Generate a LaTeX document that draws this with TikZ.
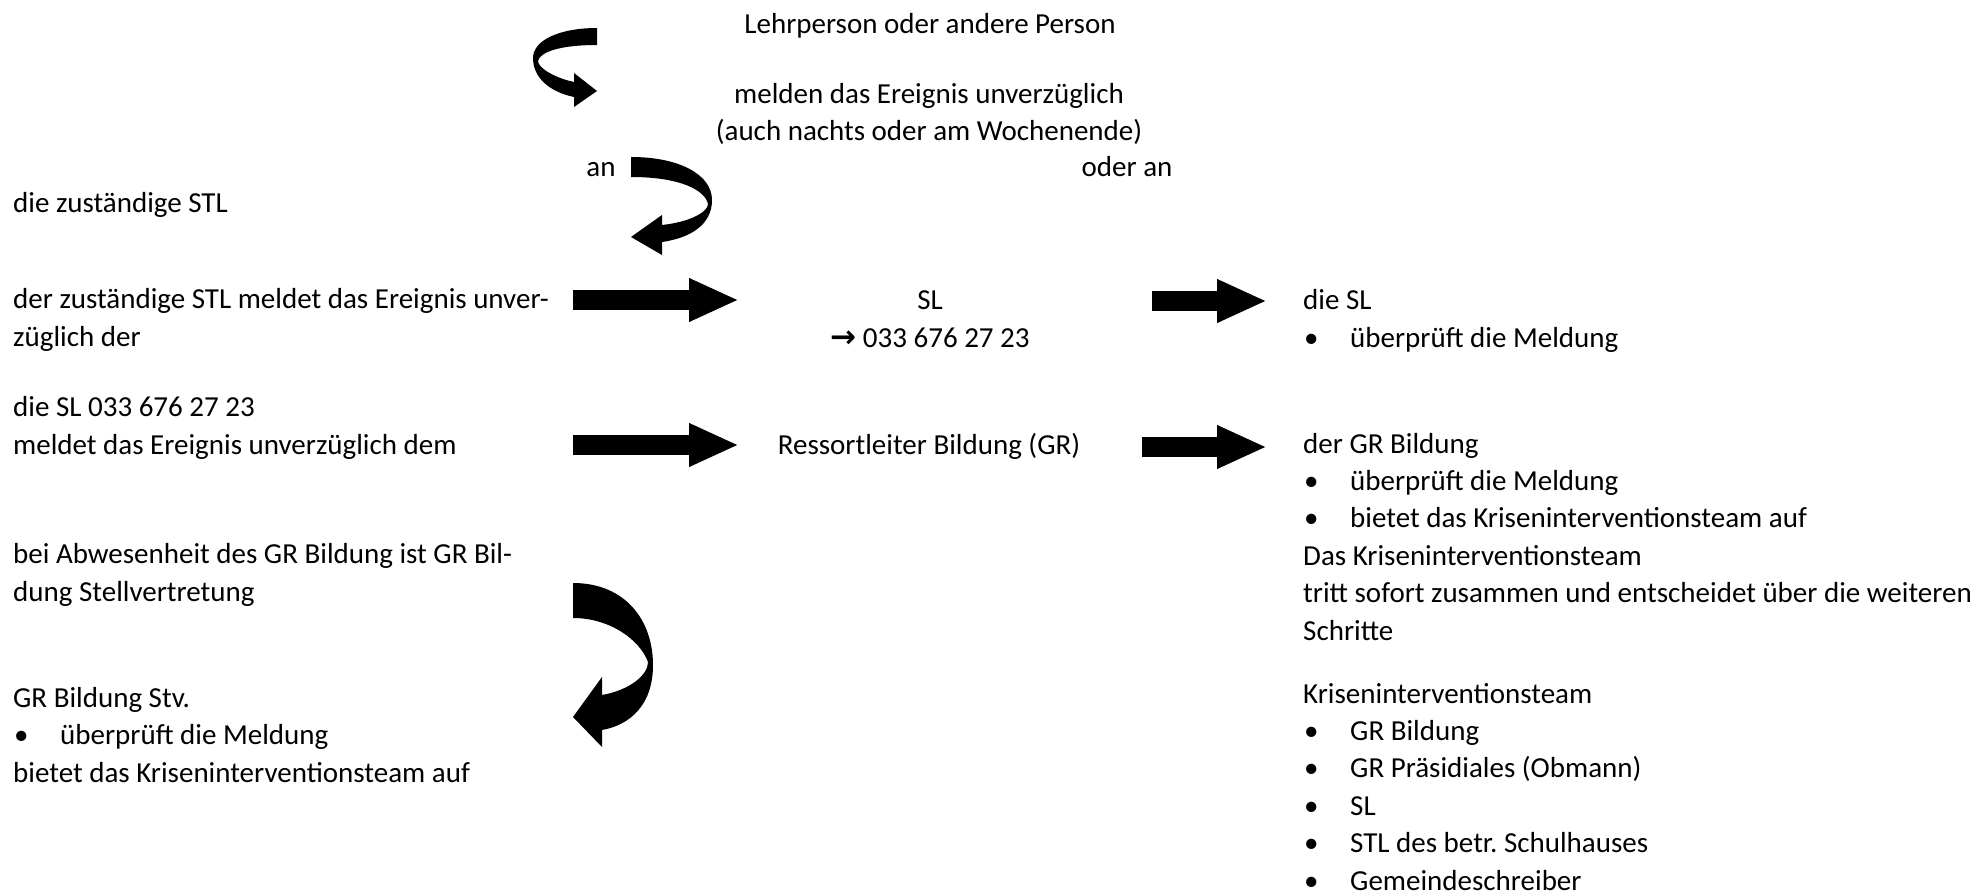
\documentclass[tikz,border=0pt]{standalone}
\usepackage{fontspec}
\setmainfont{Carlito}
\newfontfamily\symfont{DejaVu Sans}
\usetikzlibrary{arrows.meta}
\tikzset{
  txt/.style={inner sep=0pt, anchor=base west, align=left, font=\fontsize{29}{37.4}\selectfont},
  ctxt/.style={txt, anchor=base, align=center},
  blockarrow/.style={line width=20pt, -{Triangle[width=40pt,length=50pt]}},
}
\newcommand{\bul}{\makebox[47pt][l]{\hspace{1pt}•}}
\frenchspacing
\begin{document}
\begin{tikzpicture}[x=1pt,y=-1pt]
\useasboundingbox (0,0) rectangle (1979,896);
\node[ctxt] (person) at (930,34) {Lehrperson oder andere Person};
\node[ctxt] (melden) at (929,141) {melden das Ereignis unverzüglich\\(auch nachts oder am Wochenende)};
\node[ctxt] (an) at (601,177) {an};
\node[ctxt] (oderan) at (1127,177) {oder an};
\node[txt] (stl) at (13,213) {die zuständige STL};
\node[txt] (stlmeldet) at (13,346) {der zuständige STL meldet das Ereignis unver-\\züglich der};
\node[ctxt] (sl) at (930,347) {SL\\{\symfont\bfseries\fontsize{31}{37.4}\selectfont →} 033 676 27 23};
\node[txt] (slprueft) at (1303,347) {die SL\\\bul überprüft die Meldung};
\node[txt] (slmeldet) at (13,454) {die SL 033 676 27 23\\meldet das Ereignis unverzüglich dem};
\node[ctxt] (gr) at (929,454) {Ressortleiter Bildung (GR)};
\node[txt] (grprueft) at (1303,640) {der GR Bildung\\\bul überprüft die Meldung\\\bul bietet das Kriseninterventionsteam auf\\Das Kriseninterventionsteam\\tritt sofort zusammen und entscheidet über die weiteren\\Schritte};
\node[txt] (abwesend) at (13,601) {bei Abwesenheit des GR Bildung ist GR Bil-\\dung Stellvertretung};
\node[txt] (stv) at (13,782) {GR Bildung Stv.\\\bul überprüft die Meldung\\bietet das Kriseninterventionsteam auf};
\node[txt] (team) at (1303,890) {Kriseninterventionsteam\\\bul GR Bildung\\\bul GR Präsidiales (Obmann)\\\bul SL\\\bul STL des betr. Schulhauses\\\bul Gemeindeschreiber};
\coordinate (p1) at (573,300);
\coordinate (q1) at (739,300);
\coordinate (p2) at (1152,301);
\coordinate (q2) at (1267,301);
\coordinate (p3) at (573,445);
\coordinate (q3) at (739,445);
\coordinate (p4) at (1142,447);
\coordinate (q4) at (1267,447);
\draw[blockarrow] (p1) -- (q1);
\draw[blockarrow] (p2) -- (q2);
\draw[blockarrow] (p3) -- (q3);
\draw[blockarrow] (p4) -- (q4);
\fill (597,28) .. controls (560,28) and (533,40) .. (533,58) .. controls (533,78) and (550,92) .. (574,97) -- (574,107) -- (597,91) -- (574,73) -- (574,82) .. controls (555,78) and (538,68) .. (538,61) .. controls (540,52) and (560,45) .. (597,45) -- cycle;
\fill (631,157) .. controls (680,157) and (712,175) .. (712,200) .. controls (712,225) and (690,238) .. (662,242) -- (662,255) -- (631,237) -- (662,215) -- (662,225) .. controls (690,222) and (708,212) .. (708,204) .. controls (705,190) and (680,177) .. (631,177) -- cycle;
\fill (573,583) .. controls (625,583) and (653,620) .. (653,665) .. controls (653,705) and (630,725) .. (602,730) -- (602,747) -- (573,717) -- (602,677) -- (602,695) .. controls (630,690) and (648,675) .. (648,662) .. controls (640,640) and (610,618) .. (573,618) -- cycle;
\end{tikzpicture}
\end{document}
